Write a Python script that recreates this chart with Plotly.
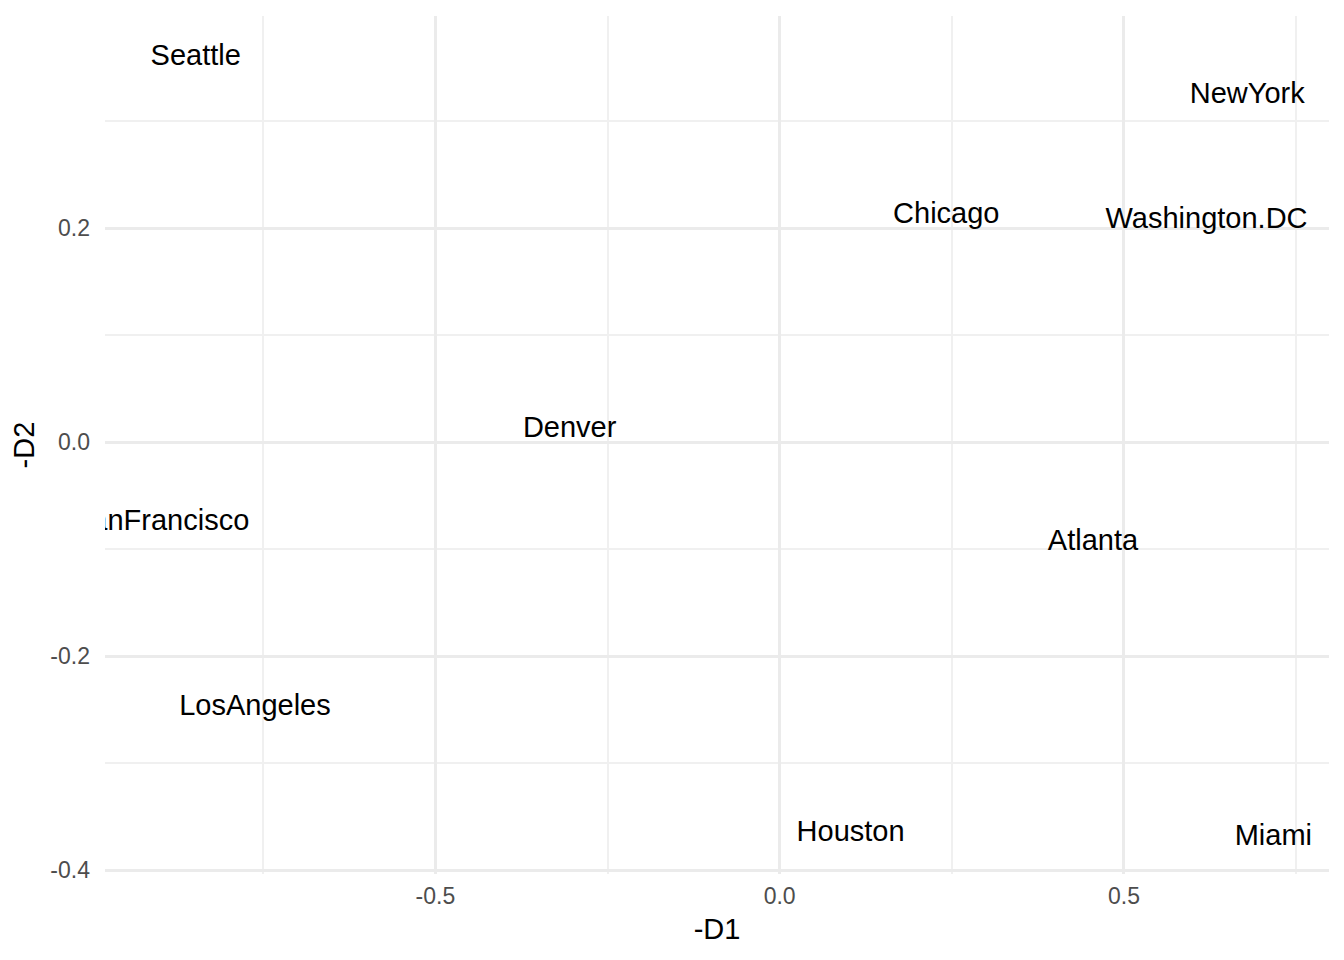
import plotly.graph_objects as go

cities = ["Atlanta", "Chicago", "Denver", "Houston", "LosAngeles", "Miami",
          "NewYork", "SanFrancisco", "Seattle", "Washington.DC"]
d1 = [0.455, 0.242, -0.305, 0.103, -0.762, 0.717, 0.679, -0.899, -0.848, 0.620]
d2 = [-0.0915, 0.215, 0.015, -0.363, -0.2456, -0.367, 0.327, -0.072, 0.362, 0.210]

x_ticks = [-0.5, 0.0, 0.5]
x_tick_labels = ["-0.5", "0.0", "0.5"]
y_ticks = [-0.4, -0.2, 0.0, 0.2]
y_tick_labels = ["-0.4", "-0.2", "0.0", "0.2"]

FONT = "Liberation Sans, Arial, Helvetica, sans-serif"

# plotly centres the full font box (ascent+descent); ggplot centres glyph extents.
# small downward nudge so the visual text centre sits on the data point
TEXT_NUDGE = -0.0028
text_y = [v + TEXT_NUDGE for v in d2]

fig = go.Figure(go.Scatter(
    x=d1, y=text_y, text=cities, mode="text",
    textposition="middle center",
    textfont=dict(family=FONT, size=29, color="black"),
    cliponaxis=True, hoverinfo="skip",
))

def span(lo, hi, f=0.05):
    s = hi - lo
    return [lo - f * s, hi + f * s]

# page body has an 8px margin, so the figure is 8px smaller and offset
fig.update_layout(
    width=1336, height=952,
    margin=dict(l=97, r=15, t=8, b=86),
    plot_bgcolor="white", paper_bgcolor="white",
    showlegend=False,
    font=dict(family=FONT),
)
fig.update_xaxes(
    range=span(min(d1), max(d1)),
    tickvals=x_ticks, ticktext=x_tick_labels,
    tickfont=dict(family=FONT, size=23, color="#4D4D4D"),
    showgrid=True, gridcolor="#EBEBEB", gridwidth=3,
    minor=dict(dtick=0.25, tick0=0.25, showgrid=True, gridcolor="#F0F0F0", gridwidth=1.5),
    zeroline=False, showline=False, ticks="",
    ticklabelstandoff=6,
    title=dict(text="-D1", font=dict(family=FONT, size=29, color="black"), standoff=10),
)
fig.update_yaxes(
    range=span(min(d2), max(d2)),
    tickvals=y_ticks, ticktext=y_tick_labels,
    tickfont=dict(family=FONT, size=23, color="#4D4D4D"),
    showgrid=True, gridcolor="#EBEBEB", gridwidth=3,
    minor=dict(dtick=0.1, tick0=0.1, showgrid=True, gridcolor="#F0F0F0", gridwidth=1.5),
    zeroline=False, showline=False, ticks="",
    ticklabelstandoff=14,
    title=dict(text="-D2", font=dict(family=FONT, size=29, color="black"), standoff=7),
)

fig.write_html("out.html")
